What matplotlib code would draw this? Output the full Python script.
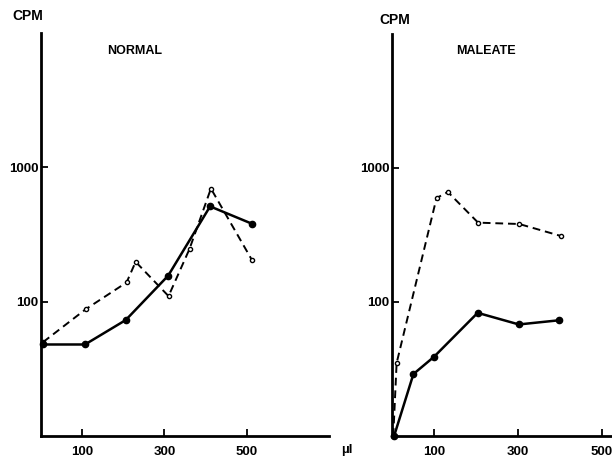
import matplotlib
matplotlib.use("Agg")
import matplotlib.pyplot as plt

plt.rcParams['font.family'] = ['Liberation Sans', 'DejaVu Sans']

# Data
normal_x_solid = [5, 107, 206, 309, 411, 513]
normal_solid = [48, 48, 73, 156, 512, 380]
normal_x_dash = [5, 109, 208, 230, 310, 361, 413, 512]
normal_dash = [50, 88, 139, 198, 110, 247, 695, 206]

maleate_x_solid = [5, 51, 100, 204, 302, 397]
maleate_solid = [10, 29, 39, 83, 68, 73]
maleate_x_dash = [3, 11, 106, 133, 205, 303, 402]
maleate_dash = [10, 35, 597, 662, 391, 382, 311]

x_ticks = [100, 300, 500]
x_tick_labels = ["100", "300", "500"]
y_ticks = [100, 1000]
y_tick_labels = ["100", "1000"]

W, H = 612, 459
fig = plt.figure(figsize=(W / 100, H / 100), dpi=100)


def px_axes(l, t, r, b):
    return fig.add_axes([l / W, 1 - b / H, (r - l) / W, (b - t) / H])


def style(ax, xmax):
    ax.set_yscale('log')
    ax.set_ylim(10, 10000)
    ax.set_xlim(0, xmax)
    for s in ('top', 'right'):
        ax.spines[s].set_visible(False)
    for s in ('left', 'bottom'):
        ax.spines[s].set_linewidth(2.0)
    ax.set_xticks(x_ticks)
    ax.set_xticklabels(x_tick_labels, fontweight='bold', fontsize=9.5)
    ax.set_yticks(y_ticks)
    ax.set_yticklabels(y_tick_labels, fontweight='bold', fontsize=9.5)
    ax.yaxis.set_minor_locator(matplotlib.ticker.NullLocator())
    ax.tick_params(axis='x', direction='in', length=5, width=1.3, pad=7)
    ax.tick_params(axis='y', direction='in', length=5, width=1.3, pad=2)


def draw(ax, xs, ys, xd, yd):
    ax.plot(xd, yd, color='black', lw=1.4, ls=(0, (4, 2.5)), marker='o',
            ms=3.0, mfc='white', mec='black', mew=1.0, clip_on=False, zorder=3)
    ax.plot(xs, ys, color='black', lw=1.8, marker='o', ms=4.5,
            mfc='black', mec='black', clip_on=False, zorder=4)


ax1 = px_axes(41, 33, 329, 436)
style(ax1, 700)
draw(ax1, normal_x_solid, normal_solid, normal_x_dash, normal_dash)

ax2 = px_axes(392, 34, 612, 436)
style(ax2, 220 / 0.42)
draw(ax2, maleate_x_solid, maleate_solid, maleate_x_dash, maleate_dash)


def ftext(x, y, s, size):
    fig.text(x / W, 1 - y / H, s, ha='center', va='center',
             fontweight='bold', fontsize=size)


ftext(28, 16.5, "CPM", 10)
ftext(395, 20, "CPM", 10)
ftext(135, 50.5, "NORMAL", 9)
ftext(486, 51, "MALEATE", 9)
ftext(346.5, 450, "µl", 9.5)

fig.savefig("out.png", dpi=100)
